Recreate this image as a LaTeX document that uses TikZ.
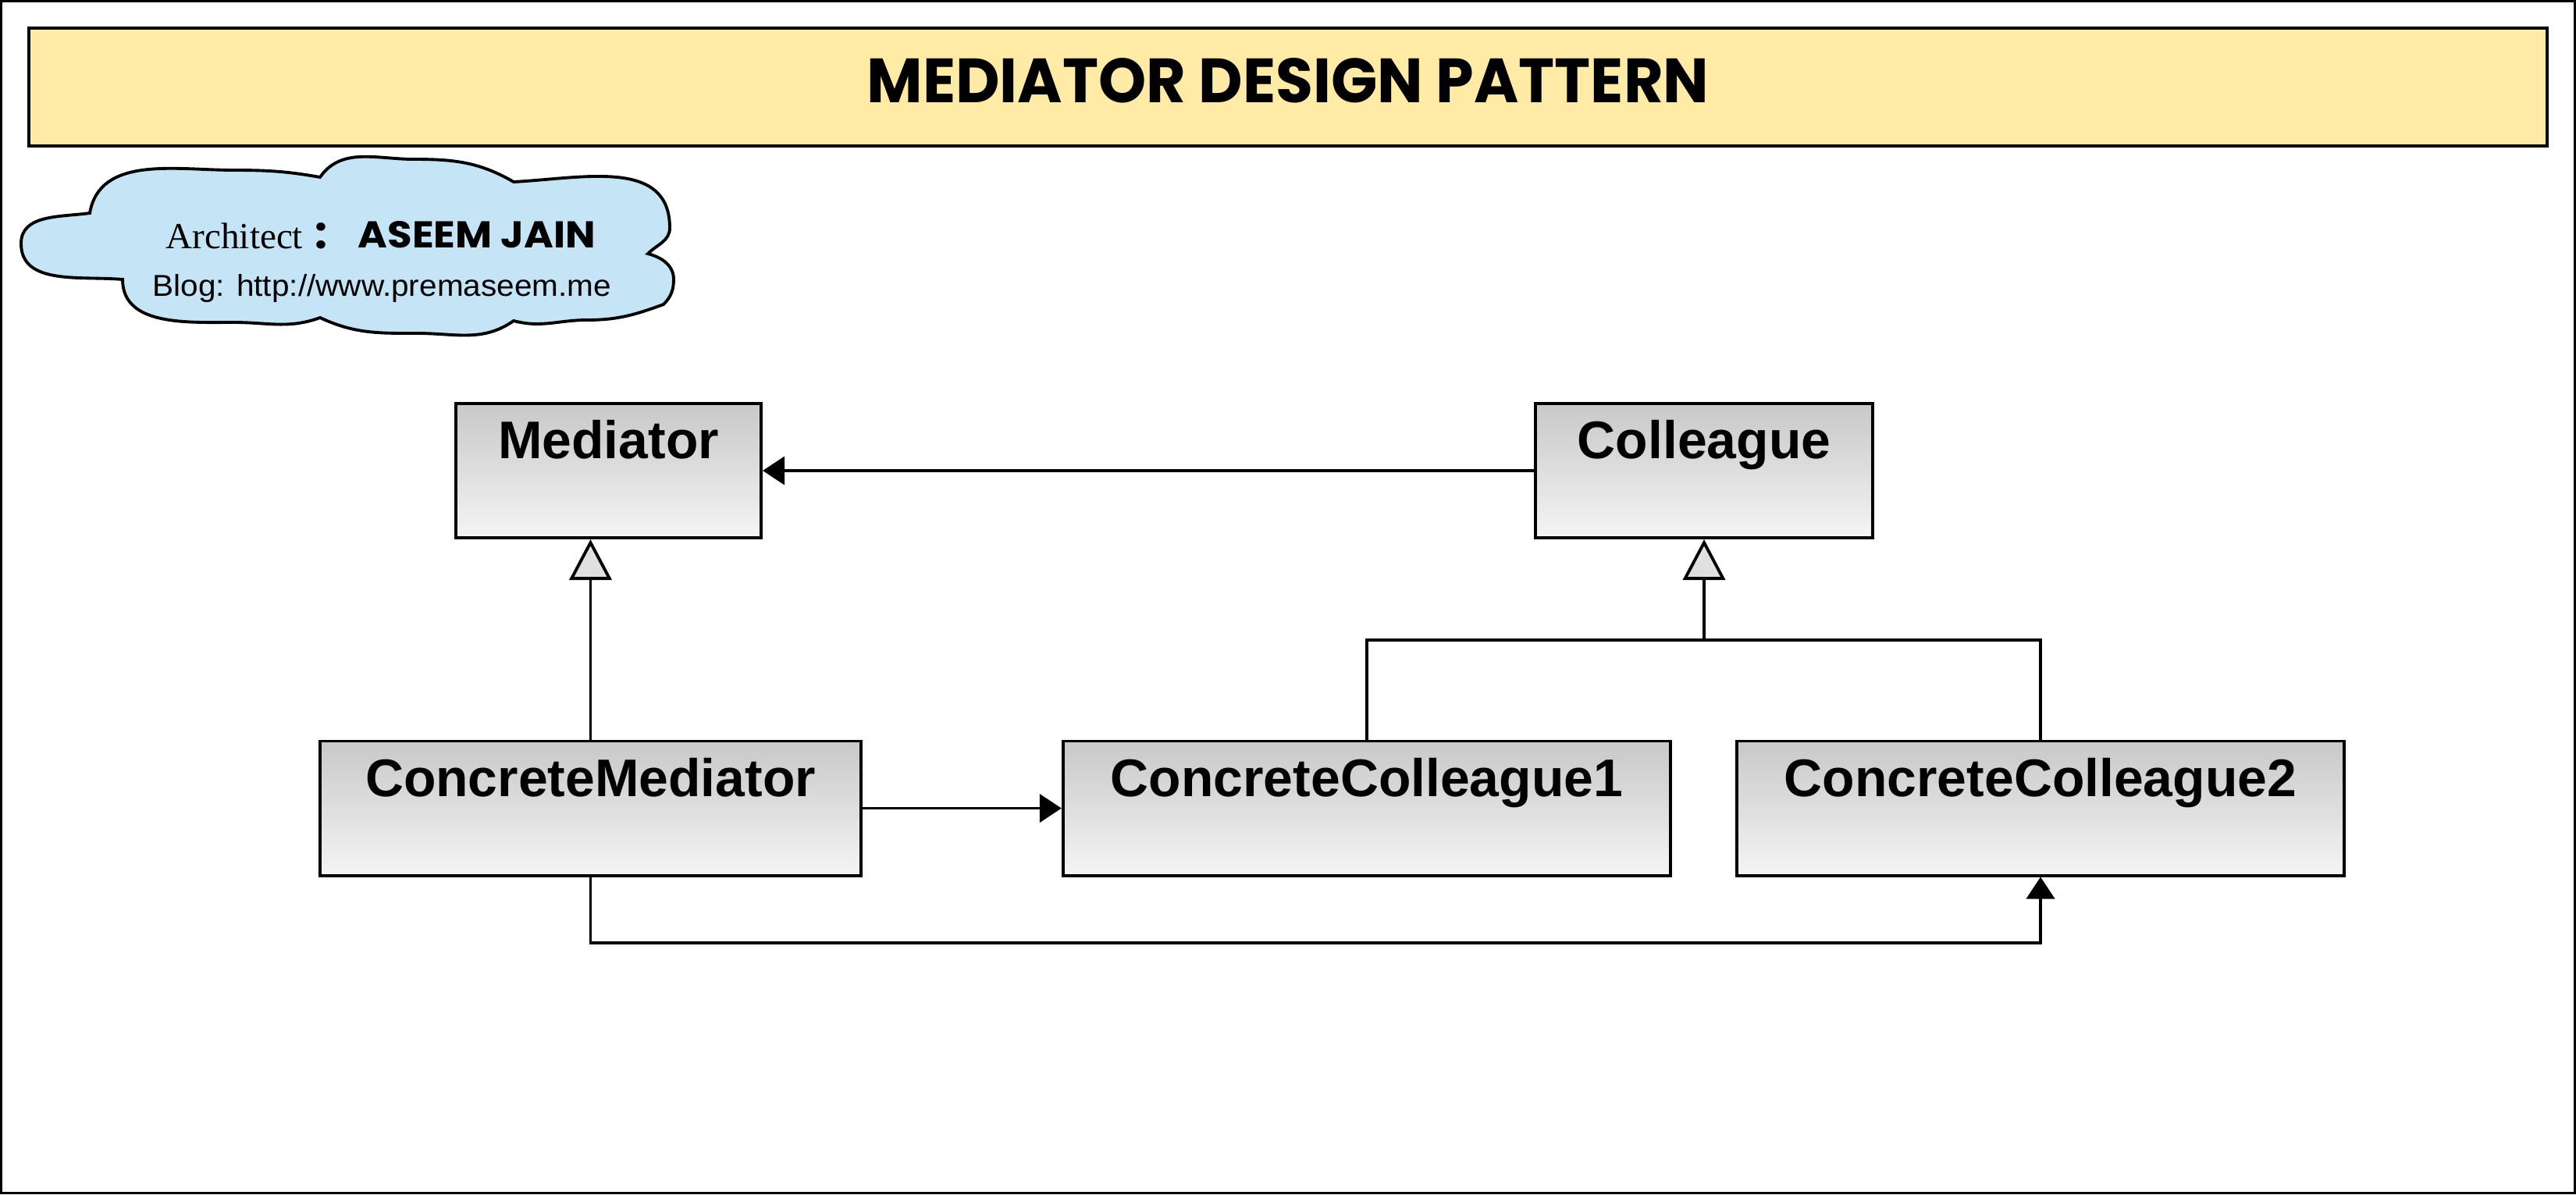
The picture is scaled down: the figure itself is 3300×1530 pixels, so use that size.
\documentclass[tikz,border=0pt]{standalone}
\usepackage{fontspec}
\setmainfont{Liberation Serif}
\newfontfamily\arialf{Liberation Sans}
\newfontfamily\comicf{Poppins}
\usetikzlibrary{arrows.meta,shadings}
\definecolor{bannerY}{RGB}{255,235,166}
\definecolor{cloudB}{RGB}{197,228,246}
\definecolor{boxTop}{RGB}{200,200,200}
\definecolor{boxBot}{RGB}{244,244,244}
\definecolor{triFill}{RGB}{224,224,224}
\begin{document}
\begin{tikzpicture}[x=0.01cm,y=-0.01cm,
  umlbox/.style={draw=black, line width=1.1pt, top color=boxTop, bottom color=boxBot,
    inner xsep=0pt, inner ysep=0pt, text height=0.71cm, text depth=1.01cm,
    font=\arialf\bfseries\fontsize{19.3}{22}\selectfont},
  conn/.style={draw=black, line width=1.1pt},
  assoc/.style={conn, -{Triangle[length=0.28cm,width=0.36cm]}},
  gen/.style={conn, -{Triangle[open,fill=triFill,length=0.52cm,width=0.54cm]}},
  txt/.style={inner sep=0pt, anchor=base west}]
\useasboundingbox (0,0) rectangle (3300,1530);
\draw[line width=0.9pt] (1.5,1.5) rectangle (3298.5,1528.5);
% banner
\node[draw=black, line width=1pt, fill=bannerY, minimum width=32.24cm, minimum height=1.51cm, inner sep=0pt] (banner) at (1650,111.5) {};
\node[inner sep=0pt, anchor=base] (title) at (1650,131) {\resizebox{10.78cm}{0.57cm}{\comicf\bfseries MEDIATOR DESIGN PATTERN}};
% cloud
\draw[line width=1.1pt, fill=cloudB] (157,358) to[out=175,in=270] (27,312) to[out=90,in=188] (115,273)
  to[out=80,in=180] (300,218) to[out=0,in=170] (410,227)
  to[out=55,in=180] (530,204) to[out=0,in=150] (658,233)
  to[out=3,in=90,looseness=1.1] (858,292) to[out=270,in=45] (830,325)
  to[out=-15,in=90] (863,358) to[out=270,in=45] (850,390)
  to[out=200,in=0] (752,410) to[out=180,in=-15] (658,411)
  to[out=215,in=0] (535,427) to[out=180,in=-25] (410,407)
  to[out=200,in=0] (300,413) to[out=180,in=270] cycle;
\node[txt, font=\fontsize{13.4}{16}\selectfont] (arch) at (212,318) {Architect};
\node[txt, font=\comicf\bfseries\fontsize{16}{18}\selectfont] (colon) at (403,318) {:};
\node[txt] (name) at (458,317) {\resizebox{3.04cm}{0.34cm}{\comicf\bfseries ASEEM JAIN}};
\node[txt] (blog) at (195,379) {\resizebox{5.87cm}{0.28cm}{\arialf Blog: http://www.premaseem.me}};
% classes
\node[umlbox, minimum width=3.91cm] (M) at (779.5,603) {Mediator};
\node[umlbox, minimum width=4.32cm] (C) at (2183,603) {Colleague};
\node[umlbox, minimum width=6.93cm] (CM) at (756.5,1035.5) {ConcreteMediator};
\node[umlbox, minimum width=7.78cm] (CC1) at (1751,1035.5) {ConcreteColleague1};
\node[umlbox, minimum width=7.78cm] (CC2) at (2614,1035.5) {ConcreteColleague2};
% connectors
\draw[assoc] (C.west) -- (M.east);
\draw[gen] (CM.north) -- (CM.north |- M.south);
\coordinate (j) at (C.south |- 0,820);
\draw[conn] (CC1.north) -- (CC1.north |- j) -- (CC2.north |- j) -- (CC2.north);
\draw[gen] (j) -- (C.south);
\draw[assoc] (CM.east) -- (CC1.west);
\coordinate (b) at (CM.south |- 0,1208);
\draw[assoc] (CM.south) -- (b) -- (CC2.south |- b) -- (CC2.south);
\end{tikzpicture}
\end{document}
